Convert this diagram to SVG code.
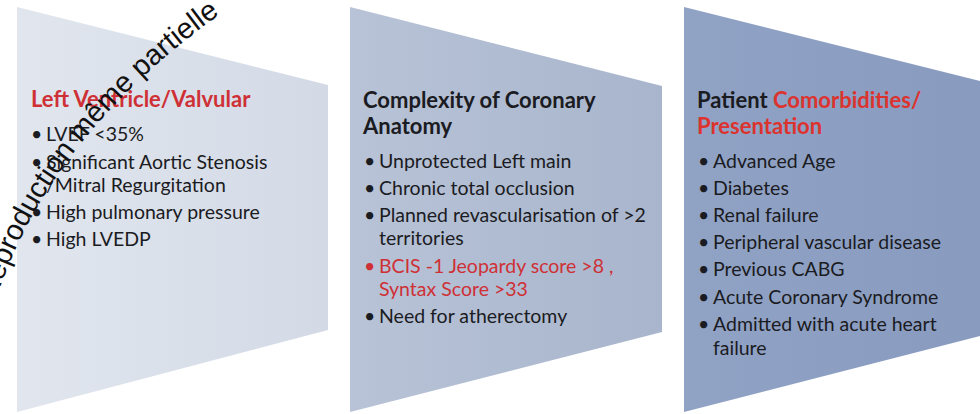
<svg xmlns="http://www.w3.org/2000/svg" width="980" height="414" viewBox="0 0 980 414">
  <defs>
    <linearGradient id="g1" x1="0" y1="0" x2="1" y2="0">
      <stop offset="0" stop-color="#e1e6ee"/>
      <stop offset="1" stop-color="#d3dae6"/>
    </linearGradient>
    <linearGradient id="g2" x1="0" y1="0" x2="1" y2="0">
      <stop offset="0" stop-color="#b8c3d7"/>
      <stop offset="1" stop-color="#a8b5cc"/>
    </linearGradient>
    <linearGradient id="g3" x1="0" y1="0" x2="1" y2="0">
      <stop offset="0" stop-color="#90a3c5"/>
      <stop offset="1" stop-color="#889bbf"/>
    </linearGradient>
    <path id="wmpath" d="M -14,335 Q 35,130 262,-14" fill="none"/>
  </defs>
  <style>
    text { font-family: Lato, "Open Sans", "Liberation Sans", sans-serif; }
    .t { font-size: 22px; font-weight: bold; fill: #1b1b22; }
    .b { font-size: 19.5px; fill: #1b1b22; }
    .red { fill: #cf3035; }
    .red3 { fill: #dc332f; }
    .wm { font-family: "Liberation Sans", Arial, sans-serif; font-size: 29px; fill: #111; }
  </style>
  <rect width="980" height="414" fill="#ffffff"/>
  <g id="connectors"/>
  <g id="panel-1">
    <polygon points="17,7 328,85 328,330 17,412" fill="url(#g1)"/>
    <text class="t red" x="31" y="107">Left Ventricle/Valvular</text>
    <text class="b" x="31" y="141">•</text><text class="b" x="46" y="141">LVEF &lt;35%</text>
    <text class="b" x="31" y="169">•</text><text class="b" x="46" y="169">Significant Aortic  Stenosis</text>
    <text class="b" x="46" y="192">/Mitral Regurgitation</text>
    <text class="b" x="31" y="219">•</text><text class="b" x="46" y="219">High pulmonary pressure</text>
    <text class="b" x="31" y="246">•</text><text class="b" x="46" y="246">High LVEDP</text>
  </g>
  <g id="panel-2">
    <polygon points="350,7 662,86 662,332 350,412" fill="url(#g2)"/>
    <text class="t" x="363" y="108">Complexity of Coronary</text>
    <text class="t" x="363" y="134">Anatomy</text>
    <text class="b" x="364" y="168">•</text><text class="b" x="379" y="168">Unprotected Left main</text>
    <text class="b" x="364" y="195">•</text><text class="b" x="379" y="195">Chronic total occlusion</text>
    <text class="b" x="364" y="222">•</text><text class="b" x="379" y="222">Planned revascularisation of &gt;2</text>
    <text class="b" x="379" y="245">territories</text>
    <text class="b red" x="364" y="273">•</text><text class="b red" x="379" y="273">BCIS -1 Jeopardy score &gt;8 ,</text>
    <text class="b red" x="379" y="296">Syntax Score &gt;33</text>
    <text class="b" x="364" y="323">•</text><text class="b" x="379" y="323">Need for atherectomy</text>
  </g>
  <g id="panel-3">
    <polygon points="684,7 996,85 996,332 684,412" fill="url(#g3)"/>
    <text class="t" x="697" y="108">Patient <tspan class="red3">Comorbidities/</tspan></text>
    <text class="t red3" x="697" y="134">Presentation</text>
    <text class="b" x="698" y="168">•</text><text class="b" x="713" y="168">Advanced Age</text>
    <text class="b" x="698" y="195">•</text><text class="b" x="713" y="195">Diabetes</text>
    <text class="b" x="698" y="222">•</text><text class="b" x="713" y="222">Renal failure</text>
    <text class="b" x="698" y="249">•</text><text class="b" x="713" y="249">Peripheral vascular disease</text>
    <text class="b" x="698" y="276">•</text><text class="b" x="713" y="276">Previous CABG</text>
    <text class="b" x="698" y="304">•</text><text class="b" x="713" y="304">Acute Coronary Syndrome</text>
    <text class="b" x="698" y="331">•</text><text class="b" x="713" y="331">Admitted with acute heart</text>
    <text class="b" x="713" y="355">failure</text>
  </g>
  <g id="watermark">
    <text class="wm"><textPath href="#wmpath" startOffset="35">Reproduction même partielle</textPath></text>
  </g>
</svg>
